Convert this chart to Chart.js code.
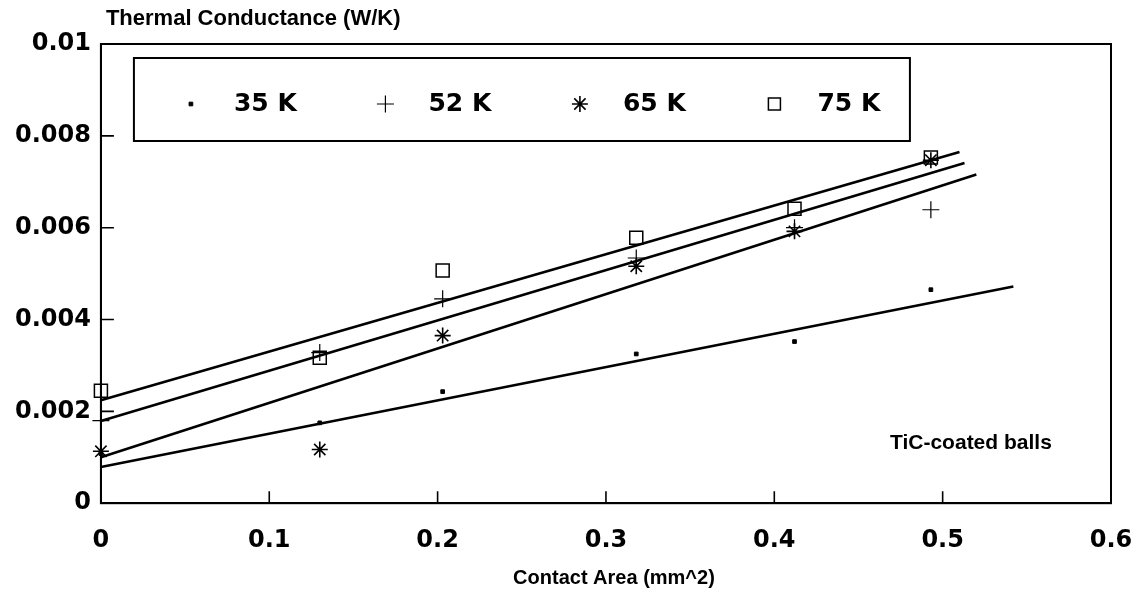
<!DOCTYPE html>
<html>
<head>
<meta charset="utf-8">
<script src="https://cdn.jsdelivr.net/npm/chart.js@4.4.0/dist/chart.umd.min.js"></script>
<style>
  html, body { margin: 0; padding: 0; background: #fff; overflow: hidden; }
  canvas { display: block; }
</style>
</head>
<body>
<canvas id="chart" width="1143" height="595"></canvas>
<script>
// contact area (mm^2) of each measurement
const areas = [0, 0.13, 0.203, 0.318, 0.412, 0.493];

// thermal conductance (W/K)
const k35 = [0.00108, 0.00175, 0.00243, 0.00325, 0.00352, 0.00465];
const k52 = [0.00180, 0.00328, 0.00445, 0.00534, 0.00600, 0.00639];
const k65 = [0.00113, 0.00117, 0.00365, 0.00516, 0.00592, 0.00747];
const k75 = [0.00245, 0.00317, 0.00507, 0.00578, 0.00641, 0.00753];

const seriesLabels = ['35 K', '52 K', '65 K', '75 K'];

// fitted straight lines (start at x = 0), end points
const fitEndX = [0.542, 0.513, 0.520, 0.510];
const fitStartY = [0.00079, 0.00179, 0.00100, 0.00224];
const fitEndY = [0.00472, 0.00741, 0.00716, 0.00765];

const xTicks = [0, 0.1, 0.2, 0.3, 0.4, 0.5, 0.6];
const yTicks = [0, 0.002, 0.004, 0.006, 0.008, 0.01];

const tickFont = { family: 'DejaVu Sans', size: 24, weight: 'bold' };

const markers = [
    { pointStyle: 'rect', radius: 2.6, borderWidth: 1, backgroundColor: '#000' },
    { pointStyle: 'cross', radius: 8.5, borderWidth: 1.2, backgroundColor: 'transparent' },
    { pointStyle: 'star', radius: 8, borderWidth: 1.6, backgroundColor: 'transparent' },
    { pointStyle: 'rect', radius: 9.2, borderWidth: 1.5, backgroundColor: 'transparent' }
];

const series = [k35, k52, k65, k75];

const datasets = [];
series.forEach((vals, i) => {
    datasets.push({
        label: seriesLabels[i],
        type: 'scatter',
        data: vals.map((v, j) => ({ x: areas[j], y: v })),
        pointStyle: markers[i].pointStyle,
        pointRadius: markers[i].radius,
        pointBorderWidth: markers[i].borderWidth,
        pointBackgroundColor: markers[i].backgroundColor,
        pointBorderColor: '#000',
        showLine: false,
        clip: false
    });
});
series.forEach((vals, i) => {
    datasets.push({
        label: seriesLabels[i] + ' fit',
        type: 'line',
        data: [{ x: 0, y: fitStartY[i] }, { x: fitEndX[i], y: fitEndY[i] }],
        borderColor: '#000',
        borderWidth: 2.6,
        pointRadius: 0,
        fill: false,
        clip: false
    });
});

// legend marker, same shapes as the chart points
function drawMarker(ctx, style, r, x, y, filled) {
    ctx.beginPath();
    if (style === 'rect') {
        const s = Math.SQRT1_2 * r;
        ctx.rect(x - s, y - s, 2 * s, 2 * s);
        if (filled) ctx.fill();
    } else {
        ctx.moveTo(x, y - r); ctx.lineTo(x, y + r);
        ctx.moveTo(x - r, y); ctx.lineTo(x + r, y);
        if (style === 'star') {
            const d = r * Math.SQRT1_2;
            ctx.moveTo(x - d, y - d); ctx.lineTo(x + d, y + d);
            ctx.moveTo(x - d, y + d); ctx.lineTo(x + d, y - d);
        }
    }
    ctx.stroke();
}

// frame, inward ticks, legend box and the free texts
const decorations = {
    id: 'decorations',
    afterDraw(chart) {
        const ctx = chart.ctx;
        const a = chart.chartArea;
        const xs = chart.scales.x, ys = chart.scales.y;
        ctx.save();
        ctx.strokeStyle = '#000';
        ctx.fillStyle = '#000';
        ctx.lineWidth = 2;
        ctx.strokeRect(a.left, a.top, a.right - a.left, a.bottom - a.top);

        ctx.lineWidth = 1.6;
        ctx.beginPath();
        xTicks.slice(1, -1).forEach(v => {
            const px = xs.getPixelForValue(v);
            ctx.moveTo(px, a.bottom);
            ctx.lineTo(px, a.bottom - 12);
        });
        yTicks.slice(1, -1).forEach(v => {
            const py = ys.getPixelForValue(v);
            ctx.moveTo(a.left, py);
            ctx.lineTo(a.left + 13, py);
        });
        ctx.stroke();

        // legend box
        const bx = a.left + 33, by = a.top + 14, bw = 776, bh = 83;
        ctx.lineWidth = 2;
        ctx.strokeRect(bx, by, bw, bh);
        ctx.font = 'bold 25px "DejaVu Sans"';
        ctx.textBaseline = 'middle';
        ctx.textAlign = 'left';
        seriesLabels.forEach((lab, i) => {
            const mx = bx + 57 + i * 194.5;
            const my = by + 46;
            ctx.lineWidth = markers[i].borderWidth;
            const r = i === 3 ? 8.5 : markers[i].radius;
            drawMarker(ctx, markers[i].pointStyle, r, mx, my, i === 0);
            ctx.fillText(lab, mx + 43, my);
        });

        // y axis title on top
        ctx.font = 'bold 22px "Liberation Sans"';
        ctx.textAlign = 'left';
        ctx.fillText('Thermal Conductance (W/K)', a.left + 5, 19);

        // x axis title
        ctx.font = 'bold 20px "Liberation Sans"';
        ctx.textAlign = 'center';
        ctx.fillText('Contact Area (mm^2)', (a.left + a.right) / 2 + 8, 578);

        // note inside the plot
        ctx.font = 'bold 21px "Liberation Sans"';
        ctx.textAlign = 'left';
        ctx.fillText('TiC-coated balls', a.right - 221, a.bottom - 60);
        ctx.restore();
    }
};

new Chart(document.getElementById('chart'), {
    type: 'scatter',
    data: { datasets },
    plugins: [decorations],
    options: {
        responsive: false,
        animation: false,
        layout: { autoPadding: false, padding: { top: 44, right: 32, bottom: 17, left: 5 } },
        plugins: {
            legend: { display: false },
            tooltip: { enabled: false }
        },
        scales: {
            x: {
                type: 'linear',
                min: 0,
                max: 0.6,
                afterBuildTicks: s => { s.ticks = xTicks.map(v => ({ value: v })); },
                afterFit: s => { s.paddingLeft = 0; s.paddingRight = 0; },
                grid: { display: false, drawTicks: false },
                border: { display: true, color: '#000', width: 2 },
                ticks: {
                    color: '#000',
                    font: tickFont,
                    padding: 23,
                    maxRotation: 0,
                    callback: v => String(v)
                }
            },
            y: {
                type: 'linear',
                min: 0,
                max: 0.01,
                afterBuildTicks: s => { s.ticks = yTicks.map(v => ({ value: v })); },
                grid: { display: false, drawTicks: false },
                border: { display: true, color: '#000', width: 2 },
                ticks: {
                    color: '#000',
                    font: tickFont,
                    padding: 10,
                    callback: v => v === 0 ? '0' : String(+v.toFixed(3))
                }
            }
        }
    }
});
</script>
</body>
</html>
